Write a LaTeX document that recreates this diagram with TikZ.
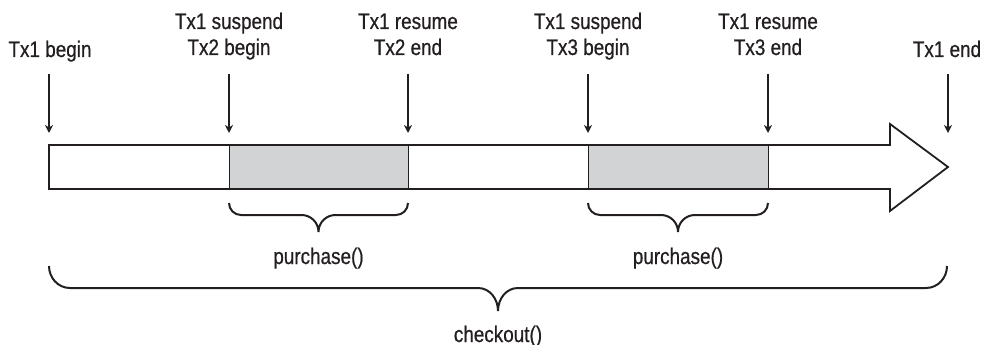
\documentclass[tikz,border=0pt]{standalone}
\usepackage{fontspec}
\setmainfont{Liberation Sans}[FakeStretch=0.84,FakeBold=0.6]
\usetikzlibrary{arrows.meta}
\definecolor{ink}{HTML}{231F20}
\definecolor{shade}{HTML}{D1D3D4}
\begin{document}
\begin{tikzpicture}[x=1pt,y=-1pt,
  lbl/.style={font=\fontsize{22.5}{26}\selectfont, align=center, anchor=base, inner sep=0pt, text=ink},
  mark arrow/.style={draw=ink, line width=1.6pt, -{Stealth[length=8pt,width=8pt,inset=2.5pt]}},
  barline/.style={draw=ink, line width=1.8pt, line join=miter},
  seg/.style={fill=shade, draw=ink, line width=0.9pt},
  brace/.style={draw=ink, line width=2pt}]
\useasboundingbox (0,0) rectangle (983,345);

% bar with arrow head
\path[barline, fill=white] (49,145) -- (890,145) -- (890,124) -- (948,167) -- (890,211) -- (890,189) -- (49,189) -- cycle;
\node[seg, minimum width=179pt, minimum height=44pt, anchor=north west, inner sep=0pt] (g1) at (229,145) {};
\node[seg, minimum width=180pt, minimum height=44pt, anchor=north west, inner sep=0pt] (g2) at (588,145) {};
\draw[barline, fill=none] (49,145) -- (890,145) (49,189) -- (890,189) (49,145) -- (49,189);

% labels
\node[lbl] (l1) at (50,57) {Tx1 begin};
\node[lbl] (l2) at (229,55) {Tx1 suspend\\Tx2 begin};
\node[lbl] (l3) at (408,55) {Tx1 resume\\Tx2 end};
\node[lbl] (l4) at (588,55) {Tx1 suspend\\Tx3 begin};
\node[lbl] (l5) at (768,55) {Tx1 resume\\Tx3 end};
\node[lbl] (l6) at (947,57) {Tx1 end};

% arrows
\foreach \i/\x in {1/49,2/229,3/408,4/588,5/768,6/948}{
  \coordinate (a\i) at (\x,74);
  \coordinate (b\i) at (\x,133);
  \draw[mark arrow] (a\i) -- (b\i);
}

% small braces
\foreach \i/\xa/\xb in {1/229/408,2/588/768}{
  \pgfmathsetmacro{\xm}{(\xa+\xb)/2}
  \coordinate (s\i) at (\xm,232);
  \draw[brace] (\xa,203) to[out=-90,in=180] (\xa+12,215) -- (\xm-17,215) to[out=0,in=90] (s\i)
               to[out=90,in=180] (\xm+17,215) -- (\xb-12,215) to[out=0,in=-90] (\xb,203);
  \node[lbl] (p\i) at (\xm,264) {purchase()};
}

% big brace
\coordinate (bt) at (498,311);
\draw[brace] (49,266) to[out=-90,in=180] (70,288) -- (478,288) to[out=0,in=90] (bt)
             to[out=90,in=180] (518,288) -- (926,288) to[out=0,in=-90] (947,266);
\node[lbl] (co) at (498,342) {checkout()};
\end{tikzpicture}
\end{document}
